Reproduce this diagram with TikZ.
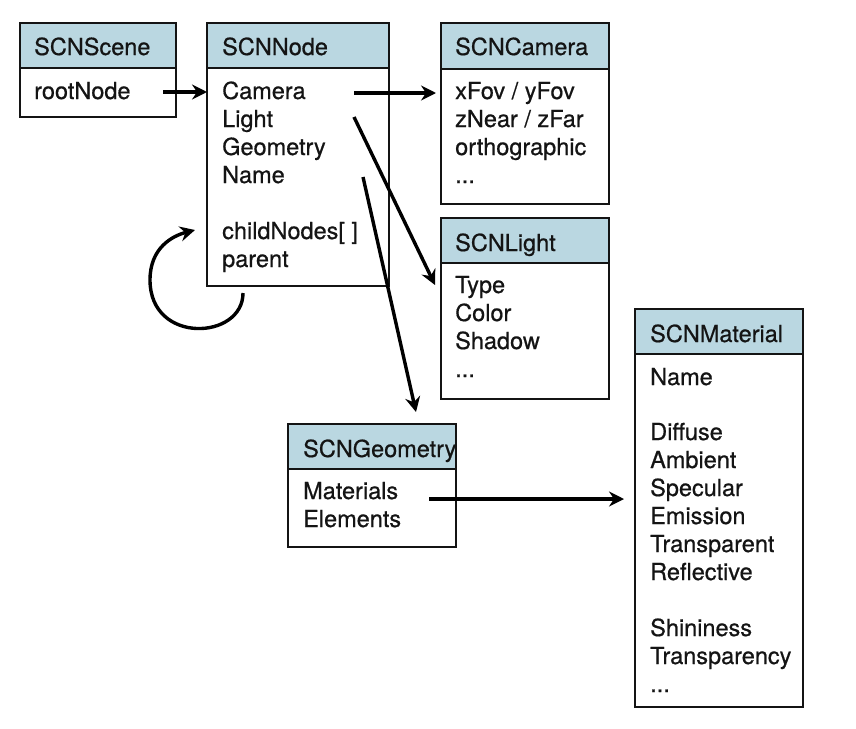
\documentclass[tikz,border=0pt]{standalone}
\usepackage{fontspec}
\setmainfont[FakeBold=0.6]{TeX Gyre Heros}
\usetikzlibrary{arrows.meta}
\definecolor{hdrblue}{RGB}{186,215,225}
\definecolor{ink}{RGB}{20,20,20}
\begin{document}
\begin{tikzpicture}[x=1pt,y=-1pt,
  boxpart/.style={draw=ink, line width=1.4pt, inner sep=0pt, outer sep=0pt, anchor=north west},
  hdr/.style={boxpart, fill=hdrblue},
  bodybox/.style={boxpart, fill=white},
  lbl/.style={anchor=base west, inner sep=0pt, text=ink, font=\fontsize{23.5}{28}\selectfont},
  arr/.style={line width=3.4pt, draw=black, -{Stealth[length=15pt,width=15pt,inset=5pt]}}]
\useasboundingbox[fill=white] (0,0) rectangle (856,728);

% SCNScene
\node[hdr, minimum width=156pt, minimum height=45pt] (sceneH) at (20,23) {};
\node[bodybox, minimum width=156pt, minimum height=49pt] (sceneB) at (sceneH.south west) {};
\node[lbl] (sceneT) at (34,55) {SCNScene};
\node[lbl] (rootT) at (34,99) {rootNode};

% SCNNode
\node[hdr, minimum width=182pt, minimum height=45pt] (nodeH) at (207,23) {};
\node[bodybox, minimum width=182pt, minimum height=218pt] (nodeB) at (nodeH.south west) {};
\node[lbl] (nodeT) at (222,55) {SCNNode};
\node[lbl] (camT) at (222,99) {Camera};
\node[lbl] (lightT) at (222,127) {Light};
\node[lbl] (geoT) at (222,155) {Geometry};
\node[lbl] (nameT) at (222,183) {Name};
\node[lbl] (childT) at (222,239) {childNodes[ ]};
\node[lbl] (parentT) at (222,267) {parent};

% SCNCamera
\node[hdr, minimum width=168pt, minimum height=46pt] (camH) at (441,23) {};
\node[bodybox, minimum width=168pt, minimum height=135pt] (camB) at (camH.south west) {};
\node[lbl] (camHT) at (455,55) {SCNCamera};
\node[lbl] (c1) at (455,99) {xFov / yFov};
\node[lbl] (c2) at (455,127) {zNear / zFar};
\node[lbl] (c3) at (455,155) {orthographic};
\node[lbl] (c4) at (455,183) {...};

% SCNLight
\node[hdr, minimum width=168pt, minimum height=45pt] (lightH) at (441,218) {};
\node[bodybox, minimum width=168pt, minimum height=136pt] (lightB) at (lightH.south west) {};
\node[lbl] (lightHT) at (455,251) {SCNLight};
\node[lbl] (l1) at (455,293) {Type};
\node[lbl] (l2) at (455,321) {Color};
\node[lbl] (l3) at (455,349) {Shadow};
\node[lbl] (l4) at (455,377) {...};

% SCNMaterial
\node[hdr, minimum width=168pt, minimum height=45pt] (matH) at (635,309) {};
\node[bodybox, minimum width=168pt, minimum height=353pt] (matB) at (matH.south west) {};
\node[lbl] (matHT) at (650,342) {SCNMaterial};
\node[lbl] (m1) at (650,385) {Name};
\node[lbl] (m2) at (650,440) {Diffuse};
\node[lbl] (m3) at (650,468) {Ambient};
\node[lbl] (m4) at (650,496) {Specular};
\node[lbl] (m5) at (650,524) {Emission};
\node[lbl] (m6) at (650,552) {Transparent};
\node[lbl] (m7) at (650,580) {Reflective};
\node[lbl] (m8) at (650,636) {Shininess};
\node[lbl] (m9) at (650,664) {Transparency};
\node[lbl] (m10) at (650,692) {...};

% SCNGeometry
\node[hdr, minimum width=168pt, minimum height=45pt] (geoH) at (288,424) {};
\node[bodybox, minimum width=168pt, minimum height=78pt] (geoB) at (geoH.south west) {};
\node[lbl] (geoHT) at (303,457) {SCNGeometry};
\node[lbl] (g1) at (303,499) {Materials};
\node[lbl] (g2) at (303,527) {Elements};

% connectors
\coordinate (rootS) at (163,92);
\draw[arr] (rootS) -- (rootS -| nodeB.west);

\coordinate (camS) at (354,93);
\draw[arr, shorten >=5pt] (camS) -- (camS -| camB.west);

\coordinate (lightS) at (354,117);
\coordinate (lightE) at (435,285);
\draw[arr] (lightS) -- (lightE);

\coordinate (geoS) at (363,177);
\coordinate (geoE) at (416,412);
\draw[arr] (geoS) -- (geoE);

\coordinate (matS) at (429,499);
\draw[arr, shorten >=11pt] (matS) -- (matS -| matB.west);

\coordinate (loopS) at (243,293);
\coordinate (loopE) at (195,230);
\draw[arr] (loopS) .. controls (243,340) and (150,345) .. (150,280)
  .. controls (150,248) and (172,236) .. (loopE);
\end{tikzpicture}
\end{document}
